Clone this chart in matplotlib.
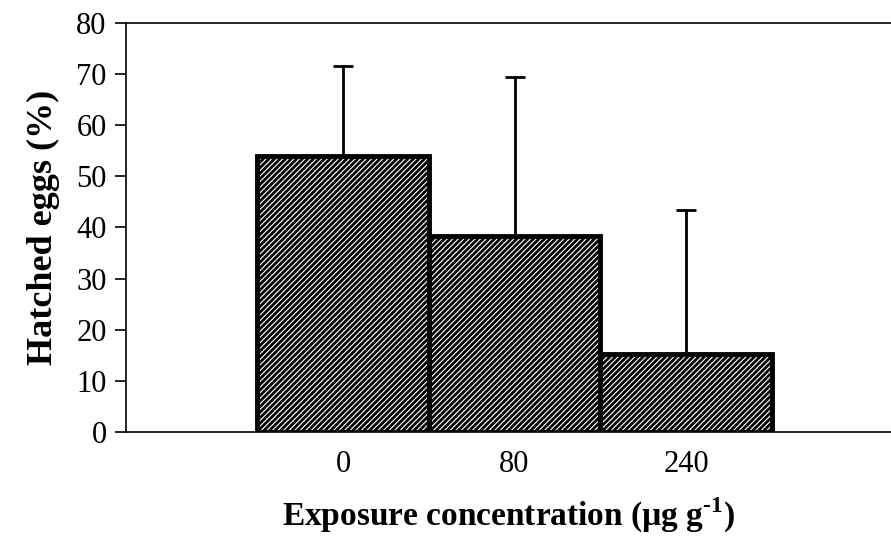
import matplotlib
matplotlib.use("Agg")
import matplotlib.pyplot as plt
import numpy as np

categories = ["0", "80", "240"]
hatched = [54.0, 38.4, 15.2]
err_upper = [17.5, 31.0, 28.2]
yticks = [0, 10, 20, 30, 40, 50, 60, 70, 80]

plt.rcParams['font.family'] = ['Liberation Serif', 'DejaVu Serif']
plt.rcParams['hatch.linewidth'] = 2.0

fig = plt.figure(figsize=(8.91, 5.57), dpi=100)
ax = fig.add_axes([126/891, 1-432/557, 1-126/891, (432-23)/557])

x = np.arange(len(categories))
ax.bar(x, hatched, width=1.0, color='white', edgecolor='black',
       linewidth=3.5, hatch='//////', zorder=2)
ax.errorbar(x, hatched, yerr=[np.zeros(len(err_upper)), err_upper],
            fmt='none', ecolor='black', elinewidth=2.0, capsize=7,
            capthick=2.0, zorder=1)

ax.set_ylim(0, 80)
ax.set_xlim(-1.265, 3.195)
ax.set_yticks(yticks)
ax.set_yticklabels([str(v) for v in yticks], fontsize=22)
ax.set_xticks(x)
ax.set_xticklabels(categories, fontsize=22)
ax.tick_params(axis='y', direction='out', length=8, width=1.2, pad=6)
ax.tick_params(axis='x', length=0, pad=13)

for s in ['top', 'bottom', 'left']:
    ax.spines[s].set_linewidth(1.2)
ax.spines['right'].set_visible(False)

ax.set_ylabel("Hatched eggs (%)", fontsize=26, fontweight='bold', labelpad=12)
ax.set_xlabel("Exposure concentration (\u00b5g g$^{\\mathregular{\u2010}\\mathregular{1}}$)",
              fontsize=24, fontweight='bold', labelpad=12)

fig.savefig("out.png", dpi=100)
